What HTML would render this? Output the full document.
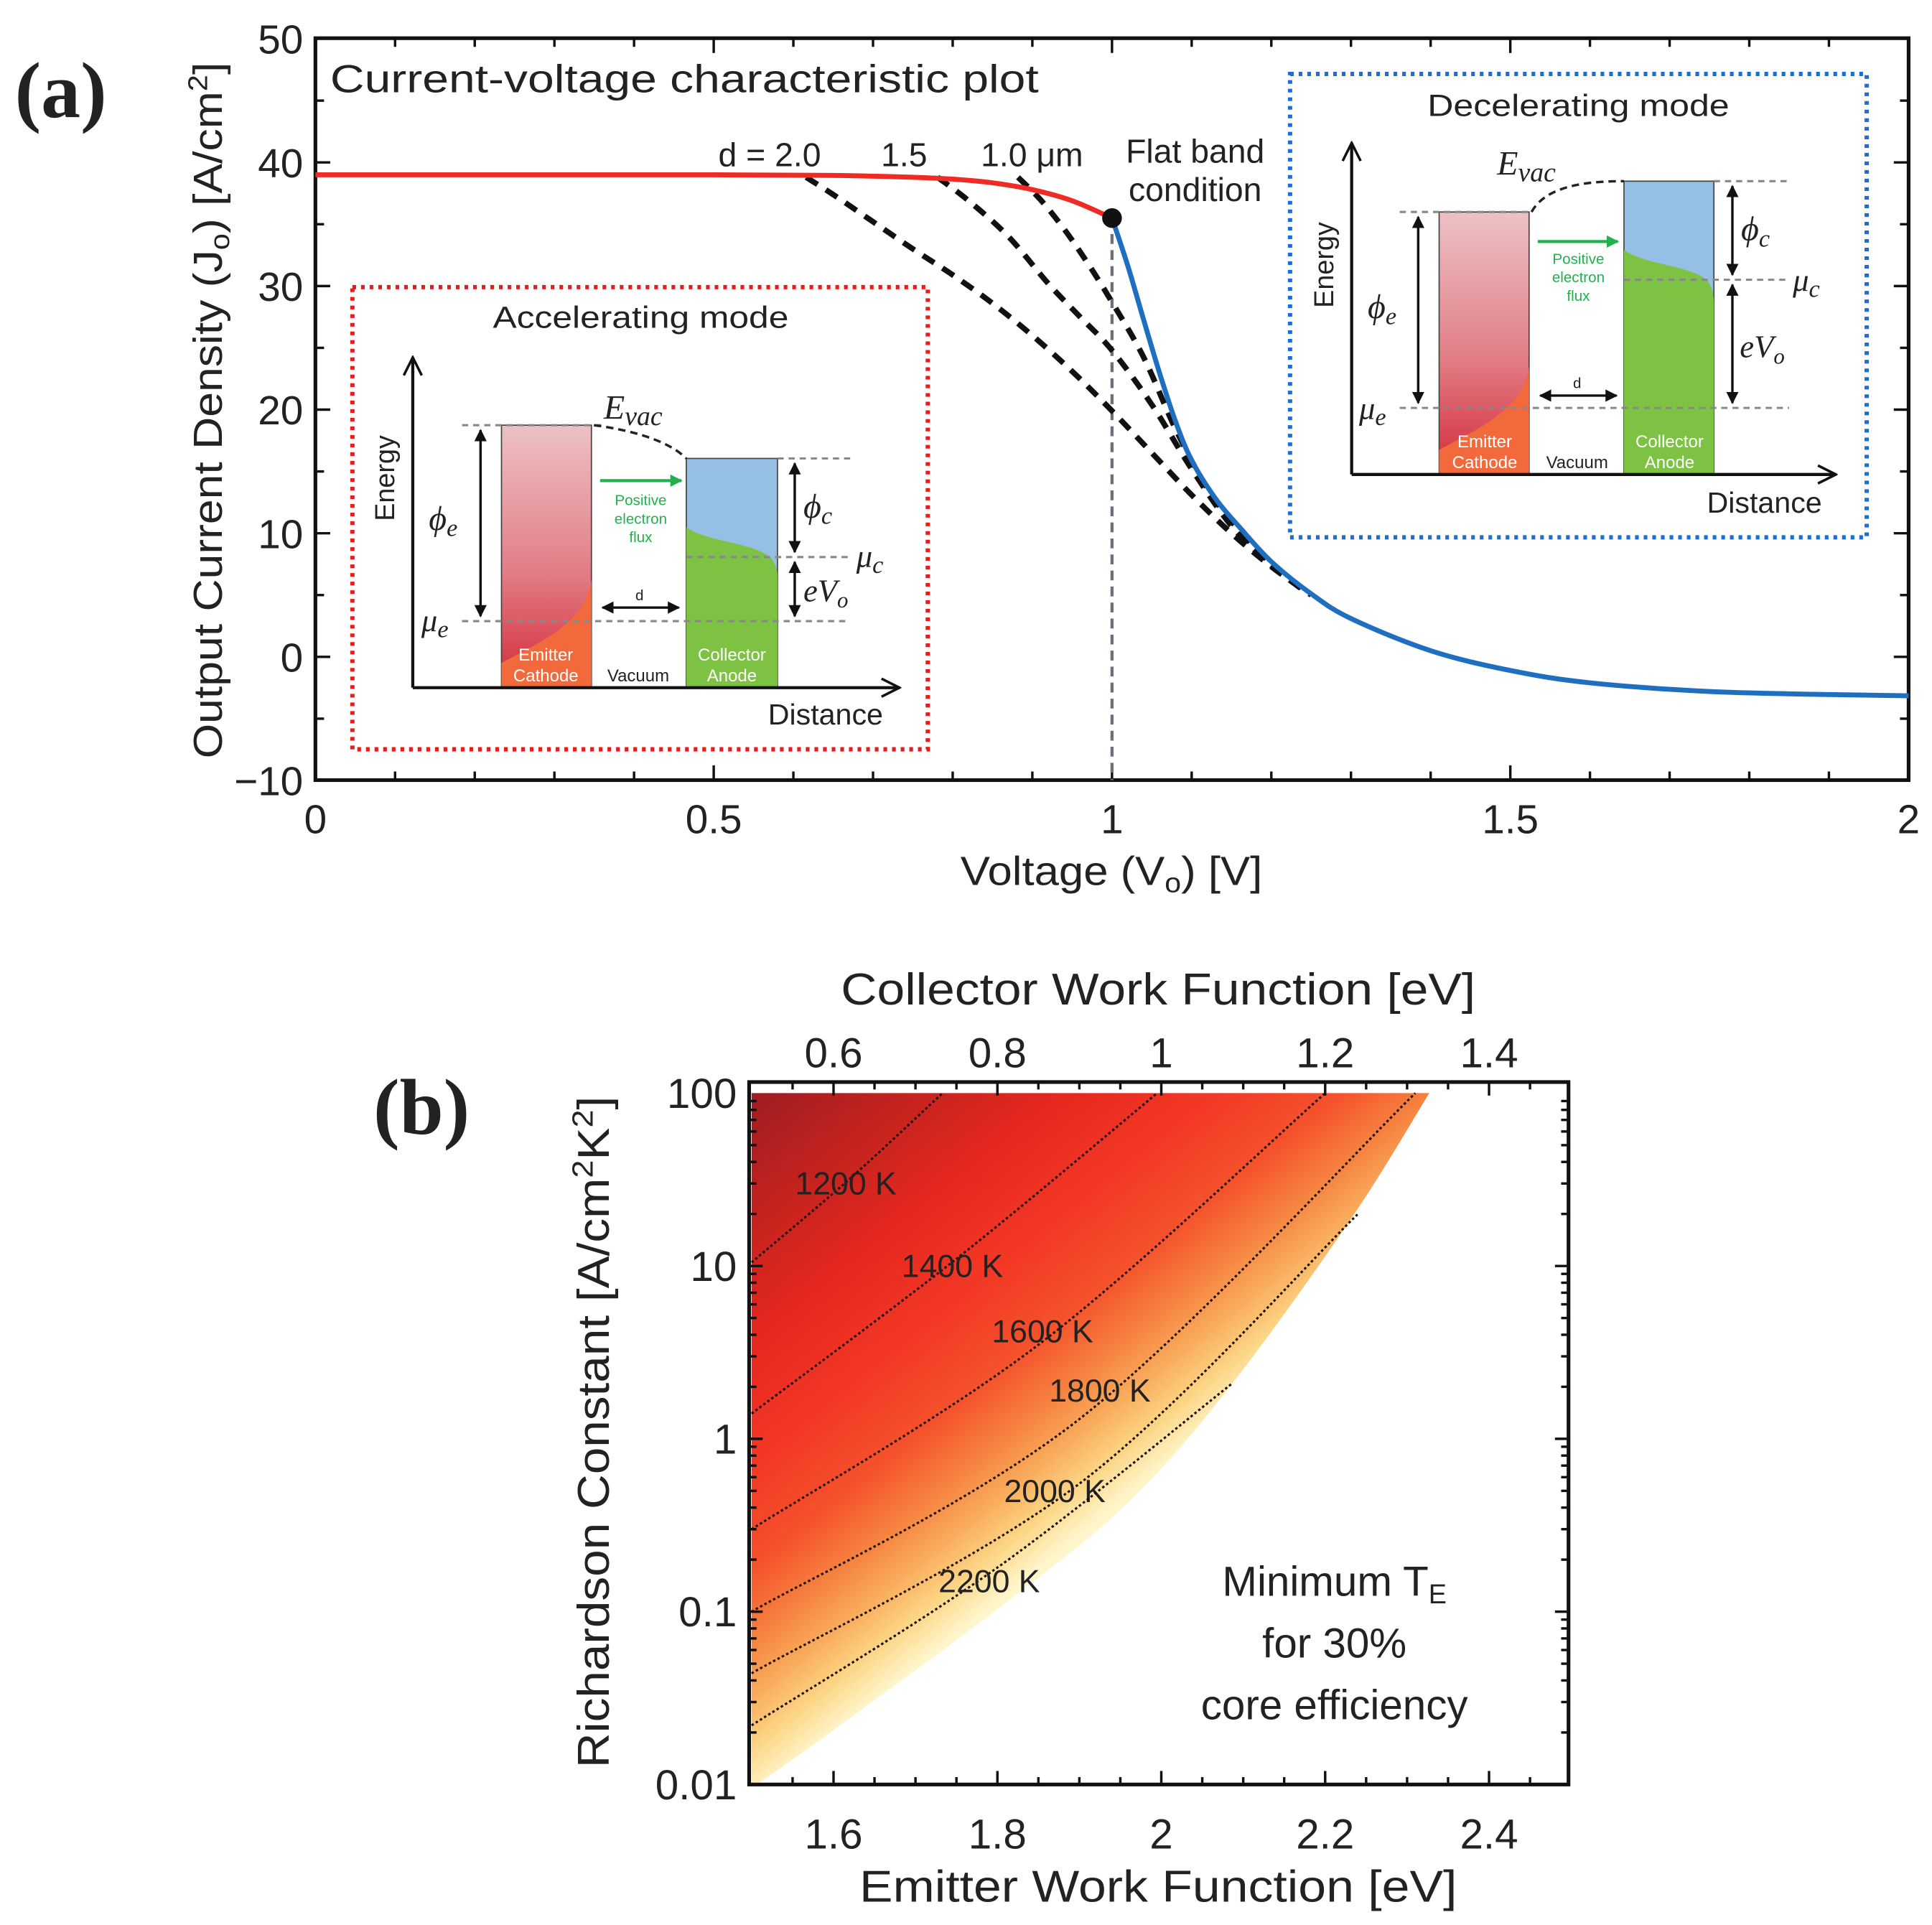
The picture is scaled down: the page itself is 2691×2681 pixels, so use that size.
<!DOCTYPE html>
<html><head><meta charset="utf-8"><title>Thermionic converter plots</title>
<style>
html,body{margin:0;padding:0;background:#fff;}
svg{display:block;}
text{font-family:"Liberation Sans","DejaVu Sans",sans-serif;fill:#222;}
.serif{font-family:"Liberation Serif",serif;}
.it{font-family:"Liberation Serif",serif;font-style:italic;}
</style></head>
<body>
<svg id="fig" xmlns="http://www.w3.org/2000/svg" width="2691" height="2681" viewBox="0 0 1568 1562" preserveAspectRatio="none">
<defs>
  <linearGradient id="emitGrad" x1="0" y1="0" x2="0" y2="1">
    <stop offset="0" stop-color="#ecc1c4"/><stop offset="0.55" stop-color="#e27f88"/><stop offset="1" stop-color="#d42a38"/>
  </linearGradient>
  <linearGradient id="heatGrad" gradientUnits="userSpaceOnUse" x1="668" y1="830" x2="953" y2="1184">
    <stop offset="0" stop-color="#9c1c22"/>
    <stop offset="0.2" stop-color="#c4231f"/>
    <stop offset="0.38" stop-color="#e8281f"/>
    <stop offset="0.55" stop-color="#f33a26"/>
    <stop offset="0.68" stop-color="#f5522c"/>
    <stop offset="0.78" stop-color="#f6823f"/>
    <stop offset="0.86" stop-color="#f9ad5c"/>
    <stop offset="0.93" stop-color="#fcd585"/>
    <stop offset="1" stop-color="#fff6cc"/>
  </linearGradient>
  <marker id="ah" viewBox="0 0 10 10" refX="9" refY="5" markerWidth="5" markerHeight="5" orient="auto-start-reverse"><path d="M0,0 L10,5 L0,10 z" fill="#111"/></marker>
  <marker id="ahg" viewBox="0 0 10 10" refX="9" refY="5" markerWidth="4" markerHeight="4" orient="auto"><path d="M0,0 L10,5 L0,10 z" fill="#22b14c"/></marker>
  <marker id="ao" viewBox="0 0 12 12" refX="11" refY="6" markerWidth="7" markerHeight="7" orient="auto"><path d="M1,1 L11,6 L1,11" fill="none" stroke="#111" stroke-width="1.4"/></marker>
</defs>

<text class="serif" x="12" y="95" font-size="64" font-weight="bold">(a)</text>
<text class="serif" x="303" y="920" font-size="64" font-weight="bold">(b)</text>

<g id="panelA">
  <rect x="256" y="31" width="1293" height="602" fill="#fff" stroke="#111" stroke-width="3"/>
  <text x="268" y="75" font-size="32" textLength="575" lengthAdjust="spacingAndGlyphs">Current-voltage characteristic plot</text>
  <g id="aTicks"></g>
  <text x="902" y="718" font-size="33" text-anchor="middle" textLength="245" lengthAdjust="spacingAndGlyphs">Voltage (V<tspan font-size="22" dy="6">o</tspan><tspan dy="-6">) [V]</tspan></text>
  <text transform="translate(180,333) rotate(-90)" font-size="33" text-anchor="middle" textLength="565" lengthAdjust="spacingAndGlyphs">Output Current Density (J<tspan font-size="22" dy="6">o</tspan><tspan dy="-6">) [A/cm</tspan><tspan font-size="22" dy="-12">2</tspan><tspan dy="12">]</tspan></text>

  <g>
    <rect x="286" y="233" width="467" height="375" fill="none" stroke="#e81c1c" stroke-width="3.5" stroke-dasharray="3,4"/>
    <text x="520" y="266" font-size="25" text-anchor="middle" textLength="240" lengthAdjust="spacingAndGlyphs">Accelerating mode</text>
    <rect x="407" y="345" width="73" height="213" fill="url(#emitGrad)" stroke="#444" stroke-width="1"/>
    <path d="M407,558 L407,538 C425,528 455,515 470,495 C476,487 479,478 480,470 L480,558 Z" fill="#f26a3c"/>
    <rect x="557" y="372" width="74" height="186" fill="#94c0e6" stroke="#444" stroke-width="1"/>
    <path d="M557,558 L557,428 C575,440 610,440 625,452 C630,458 631,463 631,468 L631,558 Z" fill="#7dc242"/>
    <g stroke="#888" stroke-width="1.8" stroke-dasharray="5,4" fill="none">
      <line x1="375" y1="345" x2="490" y2="345"/><line x1="631" y1="372" x2="690" y2="372"/>
      <line x1="557" y1="452" x2="690" y2="452"/><line x1="375" y1="504" x2="690" y2="504"/>
    </g>
    <path d="M482,345 C520,350 545,360 557,372" fill="none" stroke="#222" stroke-width="2" stroke-dasharray="6,4"/>
    <line x1="335" y1="558" x2="335" y2="290" stroke="#111" stroke-width="2.5" marker-end="url(#ao)"/>
    <line x1="335" y1="558" x2="730" y2="558" stroke="#111" stroke-width="2.5" marker-end="url(#ao)"/>
    <line x1="390" y1="349" x2="390" y2="500" stroke="#111" stroke-width="2" marker-start="url(#ah)" marker-end="url(#ah)"/>
    <line x1="645" y1="376" x2="645" y2="448" stroke="#111" stroke-width="2" marker-start="url(#ah)" marker-end="url(#ah)"/>
    <line x1="645" y1="456" x2="645" y2="500" stroke="#111" stroke-width="2" marker-start="url(#ah)" marker-end="url(#ah)"/>
    <line x1="489" y1="493" x2="551" y2="493" stroke="#111" stroke-width="2" marker-start="url(#ah)" marker-end="url(#ah)"/>
    <line x1="487" y1="390" x2="553" y2="390" stroke="#22b14c" stroke-width="2.5" marker-end="url(#ahg)"/>
    <text x="520" y="410" font-size="12" style="fill:#22b14c" text-anchor="middle">Positive</text>
    <text x="520" y="425" font-size="12" style="fill:#22b14c" text-anchor="middle">electron</text>
    <text x="520" y="440" font-size="12" style="fill:#22b14c" text-anchor="middle">flux</text>
    <text x="519" y="487" font-size="12" text-anchor="middle">d</text>
    <text x="443" y="536" font-size="14" style="fill:#fff" text-anchor="middle">Emitter</text>
    <text x="443" y="553" font-size="14" style="fill:#fff" text-anchor="middle">Cathode</text>
    <text x="518" y="553" font-size="14" text-anchor="middle">Vacuum</text>
    <text x="594" y="536" font-size="14" style="fill:#fff" text-anchor="middle">Collector</text>
    <text x="594" y="553" font-size="14" style="fill:#fff" text-anchor="middle">Anode</text>
    <text x="670" y="588" font-size="24" text-anchor="middle">Distance</text>
    <text transform="translate(320,388) rotate(-90)" font-size="22" text-anchor="middle">Energy</text>
    <text class="it" x="490" y="340" font-size="28">E<tspan font-size="22" dy="5">vac</tspan></text>
    <text class="it" x="348" y="430" font-size="28">ϕ<tspan font-size="20" dy="5">e</tspan></text>
    <text class="it" x="652" y="420" font-size="28">ϕ<tspan font-size="20" dy="5">c</tspan></text>
    <text class="it" x="695" y="460" font-size="26">μ<tspan font-size="20" dy="5">c</tspan></text>
    <text class="it" x="652" y="488" font-size="26">eV<tspan font-size="18" dy="5">o</tspan></text>
    <text class="it" x="342" y="512" font-size="26">μ<tspan font-size="20" dy="5">e</tspan></text>
  </g>

  <g>
    <rect x="1047" y="60" width="468" height="376" fill="none" stroke="#1c6fd0" stroke-width="3.5" stroke-dasharray="3,4"/>
    <text x="1281" y="94" font-size="25" text-anchor="middle" textLength="245" lengthAdjust="spacingAndGlyphs">Decelerating mode</text>
    <rect x="1168" y="172" width="73" height="213" fill="url(#emitGrad)" stroke="#444" stroke-width="1"/>
    <path d="M1168,385 L1168,365 C1186,355 1216,342 1231,322 C1237,314 1240,305 1241,297 L1241,385 Z" fill="#f26a3c"/>
    <rect x="1318" y="147" width="73" height="238" fill="#94c0e6" stroke="#444" stroke-width="1"/>
    <path d="M1318,385 L1318,203 C1336,215 1370,215 1385,227 C1390,233 1391,240 1391,245 L1391,385 Z" fill="#7dc242"/>
    <g stroke="#888" stroke-width="1.8" stroke-dasharray="5,4" fill="none">
      <line x1="1136" y1="172" x2="1241" y2="172"/><line x1="1391" y1="147" x2="1452" y2="147"/>
      <line x1="1318" y1="227" x2="1452" y2="227"/><line x1="1136" y1="331" x2="1452" y2="331"/>
    </g>
    <path d="M1243,172 C1255,150 1290,147 1318,147" fill="none" stroke="#222" stroke-width="2" stroke-dasharray="6,4"/>
    <line x1="1097" y1="385" x2="1097" y2="116" stroke="#111" stroke-width="2.5" marker-end="url(#ao)"/>
    <line x1="1097" y1="385" x2="1490" y2="385" stroke="#111" stroke-width="2.5" marker-end="url(#ao)"/>
    <line x1="1151" y1="176" x2="1151" y2="327" stroke="#111" stroke-width="2" marker-start="url(#ah)" marker-end="url(#ah)"/>
    <line x1="1406" y1="151" x2="1406" y2="223" stroke="#111" stroke-width="2" marker-start="url(#ah)" marker-end="url(#ah)"/>
    <line x1="1406" y1="231" x2="1406" y2="327" stroke="#111" stroke-width="2" marker-start="url(#ah)" marker-end="url(#ah)"/>
    <line x1="1250" y1="321" x2="1312" y2="321" stroke="#111" stroke-width="2" marker-start="url(#ah)" marker-end="url(#ah)"/>
    <line x1="1248" y1="196" x2="1313" y2="196" stroke="#22b14c" stroke-width="2.5" marker-end="url(#ahg)"/>
    <text x="1281" y="214" font-size="12" style="fill:#22b14c" text-anchor="middle">Positive</text>
    <text x="1281" y="229" font-size="12" style="fill:#22b14c" text-anchor="middle">electron</text>
    <text x="1281" y="244" font-size="12" style="fill:#22b14c" text-anchor="middle">flux</text>
    <text x="1280" y="315" font-size="12" text-anchor="middle">d</text>
    <text x="1205" y="363" font-size="14" style="fill:#fff" text-anchor="middle">Emitter</text>
    <text x="1205" y="380" font-size="14" style="fill:#fff" text-anchor="middle">Cathode</text>
    <text x="1280" y="380" font-size="14" text-anchor="middle">Vacuum</text>
    <text x="1355" y="363" font-size="14" style="fill:#fff" text-anchor="middle">Collector</text>
    <text x="1355" y="380" font-size="14" style="fill:#fff" text-anchor="middle">Anode</text>
    <text x="1432" y="416" font-size="24" text-anchor="middle">Distance</text>
    <text transform="translate(1082,215) rotate(-90)" font-size="22" text-anchor="middle">Energy</text>
    <text class="it" x="1215" y="142" font-size="28">E<tspan font-size="22" dy="5">vac</tspan></text>
    <text class="it" x="1110" y="258" font-size="28">ϕ<tspan font-size="20" dy="5">e</tspan></text>
    <text class="it" x="1413" y="195" font-size="28">ϕ<tspan font-size="20" dy="5">c</tspan></text>
    <text class="it" x="1455" y="236" font-size="26">μ<tspan font-size="20" dy="5">c</tspan></text>
    <text class="it" x="1412" y="290" font-size="26">eV<tspan font-size="18" dy="5">o</tspan></text>
    <text class="it" x="1103" y="340" font-size="26">μ<tspan font-size="20" dy="5">e</tspan></text>
  </g>

  <g id="aSeries"></g>
  <text x="583" y="135" font-size="27">d = 2.0</text>
  <text x="715" y="135" font-size="27">1.5</text>
  <text x="796" y="135" font-size="27">1.0 μm</text>
  <text x="970" y="132" font-size="27" text-anchor="middle">Flat band</text>
  <text x="970" y="163" font-size="27" text-anchor="middle">condition</text>
</g>

<g id="panelB">
  <g id="bMap"></g>
  <rect x="608" y="878" width="665" height="570" fill="none" stroke="#111" stroke-width="3"/>
  <g id="bTicks"></g>
  <text x="940" y="815" font-size="36" text-anchor="middle" textLength="515" lengthAdjust="spacingAndGlyphs">Collector Work Function [eV]</text>
  <text x="940" y="1543" font-size="36" text-anchor="middle" textLength="485" lengthAdjust="spacingAndGlyphs">Emitter Work Function [eV]</text>
  <text transform="translate(494,1162) rotate(-90)" font-size="36" text-anchor="middle" textLength="545" lengthAdjust="spacingAndGlyphs">Richardson Constant [A/cm<tspan font-size="24" dy="-13">2</tspan><tspan dy="13">K</tspan><tspan font-size="24" dy="-13">2</tspan><tspan dy="13">]</tspan></text>
  <text x="1083" y="1295" font-size="34" text-anchor="middle">Minimum T<tspan font-size="22" dy="6">E</tspan></text>
  <text x="1083" y="1345" font-size="34" text-anchor="middle">for 30%</text>
  <text x="1083" y="1395" font-size="34" text-anchor="middle">core efficiency</text>
</g>

<script>
// ---------- Panel A data ----------
const aXTicks = [0, 0.5, 1, 1.5, 2];
const aXTickLabels = ["0", "0.5", "1", "1.5", "2"];
const aYTicks = [-10, 0, 10, 20, 30, 40, 50];
const aYTickLabels = ["\u221210", "0", "10", "20", "30", "40", "50"];
const redV = [0, 0.25, 0.5, 0.65, 0.75, 0.8, 0.85, 0.9, 0.95, 1.0];
const redJ = [39, 39, 39, 38.95, 38.8, 38.65, 38.35, 37.8, 36.9, 35.5];
const blueV = [1.0, 1.02, 1.04, 1.06, 1.08, 1.1, 1.13, 1.16, 1.2, 1.25, 1.3, 1.4, 1.5, 1.6, 1.75, 1.9, 2.0];
const blueJ = [35.5, 31.6, 27.2, 22.9, 19.0, 15.9, 12.8, 10.5, 7.7, 5.1, 3.1, 0.5, -1.1, -2.1, -2.8, -3.05, -3.15];
const d20V = [0.616, 0.65, 0.7, 0.75, 0.8, 0.85, 0.9, 0.95, 1.0, 1.05, 1.1, 1.15, 1.2, 1.25];
const d20J = [38.8, 37.4, 35.2, 33.0, 30.9, 28.6, 26.0, 23.1, 19.9, 16.5, 13.1, 10.0, 7.3, 5.0];
const d15V = [0.781, 0.82, 0.87, 0.92, 0.96, 1.0, 1.05, 1.1, 1.15, 1.2, 1.24];
const d15J = [38.8, 36.9, 34.0, 30.2, 27.5, 24.8, 20.4, 15.2, 10.6, 7.4, 5.4];
const d10V = [0.882, 0.91, 0.94, 0.97, 1.0, 1.04, 1.08, 1.12, 1.16, 1.2];
const d10J = [38.8, 37.0, 34.6, 31.8, 28.7, 24.2, 18.4, 13.6, 10.2, 7.5];
const flatV = [1.0];
const flatJ = [35.5];

// ---------- Panel B data ----------
const bXTicks = [1.6, 1.8, 2.0, 2.2, 2.4];
const bXTickLabels = ["1.6", "1.8", "2", "2.2", "2.4"];
const bTopTicks = [0.6, 0.8, 1.0, 1.2, 1.4];
const bTopTickLabels = ["0.6", "0.8", "1", "1.2", "1.4"];
const bYTicks = [0.01, 0.1, 1, 10, 100];
const bYTickLabels = ["0.01", "0.1", "1", "10", "100"];
const boundaryE = [1.5, 1.51, 1.608, 1.804, 1.96, 2.087, 2.234, 2.327];
const boundaryA = [0.01, 0.0103, 0.022, 0.107, 0.43, 2.1, 19.5, 100];
const contourTemps = ["1200 K", "1400 K", "1600 K", "1800 K", "2000 K", "2200 K"];
const c1200E = [1.5, 1.62, 1.733]; const c1200A = [10.5, 32, 100];
const c1400E = [1.5, 1.75, 1.995]; const c1400A = [1.4, 11, 100];
const c1600E = [1.5, 1.85, 2.2];   const c1600A = [0.3, 3.5, 100];
const c1800E = [1.5, 1.9, 2.31];   const c1800A = [0.1, 1.3, 100];
const c2000E = [1.5, 1.9, 2.24];   const c2000A = [0.044, 0.55, 20];
const c2200E = [1.5, 1.8, 2.087];  const c2200A = [0.022, 0.18, 2.1];
const contourLabelE = [1.615, 1.745, 1.855, 1.925, 1.87, 1.79];
const contourLabelA = [30, 10, 4.2, 1.9, 0.5, 0.15];

const SVGNS = "http://www.w3.org/2000/svg";
function ax(v){ return 256 + v * 646.5; }
function ay(j){ return 533 - j * 10.03; }
function bx(e){ return 610 + (e - 1.5) * 665; }
function by(a){ return 1448 - (Math.log10(a) + 2) * 140.25; }
function mk(tag, attrs, parent){
  const el = document.createElementNS(SVGNS, tag);
  for (const k in attrs) el.setAttribute(k, attrs[k]);
  parent.appendChild(el);
  return el;
}
function smooth(pts){
  let d = "M" + pts[0][0].toFixed(2) + "," + pts[0][1].toFixed(2);
  for (let i = 0; i < pts.length - 1; i++){
    const p0 = pts[Math.max(0, i-1)], p1 = pts[i], p2 = pts[i+1], p3 = pts[Math.min(pts.length-1, i+2)];
    const c1x = p1[0] + (p2[0]-p0[0])/6, c1y = p1[1] + (p2[1]-p0[1])/6;
    const c2x = p2[0] - (p3[0]-p1[0])/6, c2y = p2[1] - (p3[1]-p1[1])/6;
    d += " C" + c1x.toFixed(2)+","+c1y.toFixed(2)+" "+c2x.toFixed(2)+","+c2y.toFixed(2)+" "+p2[0].toFixed(2)+","+p2[1].toFixed(2);
  }
  return d;
}

const aT = document.getElementById("aTicks");
for (let k = 1; k < 20; k++){
  const x = ax(k * 0.1), major = k % 5 === 0, len = major ? 12 : 7;
  const t1 = mk("line", {x1:x, y1:633, x2:x, y2:633-len, stroke:"#111", "stroke-width":2}, aT);
  
  
  const t2 = mk("line", {x1:x, y1:31, x2:x, y2:31+len, stroke:"#111", "stroke-width":2}, aT);
  
  
}
for (let j = -5; j < 50; j += 5){
  const y = ay(j), len = (j % 10 === 0) ? 12 : 7;
  const t1 = mk("line", {x1:256, y1:y, x2:256+len, y2:y, stroke:"#111", "stroke-width":2}, aT);
  
  
  const t2 = mk("line", {x1:1549, y1:y, x2:1549-len, y2:y, stroke:"#111", "stroke-width":2}, aT);
  
  
}
aXTicks.forEach((v, i) => {
  const t = mk("text", {x:ax(v), y:676, "font-size":33, "text-anchor":"middle"}, aT);
  t.textContent = aXTickLabels[i];
  
  
});
aYTicks.forEach((j, i) => {
  const t = mk("text", {x:246, y:ay(j)+12, "font-size":33, "text-anchor":"end"}, aT);
  t.textContent = aYTickLabels[i];
  
  
});

const aS = document.getElementById("aSeries");
const vline = mk("line", {x1:ax(flatV[0]), y1:ay(flatJ[0]), x2:ax(flatV[0]), y2:633, stroke:"#6a7078", "stroke-width":2.5, "stroke-dasharray":"8,5"}, aS);


function series(V, J, style, name){
  const pts = V.map((v, i) => [ax(v), ay(J[i])]);
  const p = mk("path", Object.assign({d:smooth(pts), fill:"none"}, style), aS);
  
  
}
series(d20V, d20J, {stroke:"#111", "stroke-width":4.5, "stroke-dasharray":"11,8"}, "series-d-2-0");
series(d15V, d15J, {stroke:"#111", "stroke-width":4.5, "stroke-dasharray":"11,8"}, "series-d-1-5");
series(d10V, d10J, {stroke:"#111", "stroke-width":4.5, "stroke-dasharray":"11,8"}, "series-d-1-0");
series(redV, redJ, {stroke:"#ee2b24", "stroke-width":4}, "accelerating-curve");
series(blueV, blueJ, {stroke:"#1f6fc0", "stroke-width":4}, "decelerating-curve");
const dot = mk("circle", {cx:ax(flatV[0]), cy:ay(flatJ[0]), r:8, fill:"#111"}, aS);



const bM = document.getElementById("bMap");
const bpts = boundaryE.map((e, i) => [bx(e), by(boundaryA[i])]);
let regionD = "M" + bx(1.5) + "," + by(100) + " L" + bpts[bpts.length-1][0] + "," + bpts[bpts.length-1][1];
const rev = bpts.slice().reverse();
regionD += " " + smooth(rev).replace(/^M[^C]*/, "") + " Z";
const region = mk("path", {d:regionD, fill:"url(#heatGrad)"}, bM);


const contours = [[c1200E,c1200A],[c1400E,c1400A],[c1600E,c1600A],[c1800E,c1800A],[c2000E,c2000A],[c2200E,c2200A]];
contours.forEach((c, i) => {
  const pts = c[0].map((e, k) => [bx(e), by(c[1][k])]);
  const p = mk("path", {d:smooth(pts), fill:"none", stroke:"#1a0c08", "stroke-width":1.8, "stroke-dasharray":"2,2"}, bM);
  
  
  const t = mk("text", {x:bx(contourLabelE[i]), y:by(contourLabelA[i])+9, "font-size":26, "text-anchor":"middle"}, bM);
  t.textContent = contourTemps[i];
  
  
});

const bT = document.getElementById("bTicks");
for (let k = 1; k < 20; k++){
  const e = 1.5 + k * 0.05, x = bx(e);
  const isMaj = bXTicks.some(v => Math.abs(v - e) < 1e-6);
  const len = isMaj ? 11 : 6;
  const t1 = mk("line", {x1:x, y1:1448, x2:x, y2:1448-len, stroke:"#111", "stroke-width":2}, bT);
  
  
  const t2 = mk("line", {x1:x, y1:878, x2:x, y2:878+len, stroke:"#111", "stroke-width":2}, bT);
  
  
}
for (let dcd = -2; dcd < 2; dcd++){
  for (let m = 1; m < 10; m++){
    const y = by(m * Math.pow(10, dcd)), len = m === 1 ? 11 : 6;
    const t1 = mk("line", {x1:608, y1:y, x2:608+len, y2:y, stroke:"#111", "stroke-width":2}, bT);
    
    
    const t2 = mk("line", {x1:1273, y1:y, x2:1273-len, y2:y, stroke:"#111", "stroke-width":2}, bT);
    
    
  }
}
bXTicks.forEach((e, i) => {
  const t = mk("text", {x:bx(e), y:1500, "font-size":34, "text-anchor":"middle"}, bT);
  t.textContent = bXTickLabels[i];
  
  
});
bTopTicks.forEach((c, i) => {
  const t = mk("text", {x:bx(c + 1.0), y:866, "font-size":34, "text-anchor":"middle"}, bT);
  t.textContent = bTopTickLabels[i];
  
  
});
bYTicks.forEach((a, i) => {
  const t = mk("text", {x:598, y:by(a)+12, "font-size":34, "text-anchor":"end"}, bT);
  t.textContent = bYTickLabels[i];
  
  
});
</script>
</svg>
</body></html>
